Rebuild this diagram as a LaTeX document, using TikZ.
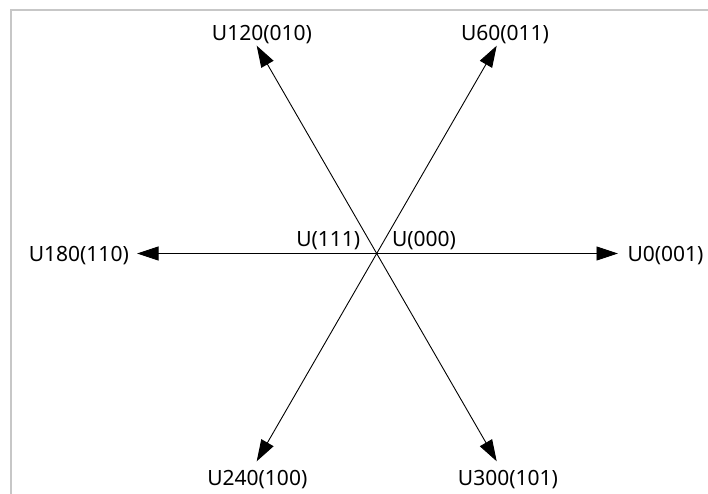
\documentclass[tikz,border=0pt]{standalone}
\usepackage{fontspec}
\setmainfont{Noto Sans}
\usetikzlibrary{arrows.meta}
\begin{document}
\begin{tikzpicture}[x=1pt,y=-1pt,
  vec/.style={line width=0.9pt,-{Triangle[length=21.5pt,width=14pt]}},
  lbl/.style={inner sep=0pt,anchor=base,font=\fontsize{21pt}{24pt}\selectfont},
  frame/.style={draw=black!22,line width=2pt}]
\useasboundingbox (0,0) rectangle (708,494);
\draw[frame] (10.5,494) -- (10.5,10.5) -- (708,10.5);
\coordinate (O) at (376.7,253.5);
\coordinate (t0) at (618,253.5);
\coordinate (t60) at (496.7,45.7);
\coordinate (t120) at (256.7,45.7);
\coordinate (t180) at (137,253.5);
\coordinate (t240) at (256.7,461.3);
\coordinate (t300) at (496.7,461.3);
\foreach \t in {t0,t60,t120,t180,t240,t300} \draw[vec] (O) -- (\t);
\node[lbl] (n0) at (665.5,261.7) {U0(001)};
\node[lbl] (n60) at (505,40.5) {U60(011)};
\node[lbl] (n120) at (262,40.5) {U120(010)};
\node[lbl] (n180) at (78.8,261.7) {U180(110)};
\node[lbl] (n240) at (257.3,485.5) {U240(100)};
\node[lbl] (n300) at (508,485.5) {U300(101)};
\node[lbl] (n111) at (328.3,246.7) {U(111)};
\node[lbl] (n000) at (424,246.7) {U(000)};
\end{tikzpicture}
\end{document}
